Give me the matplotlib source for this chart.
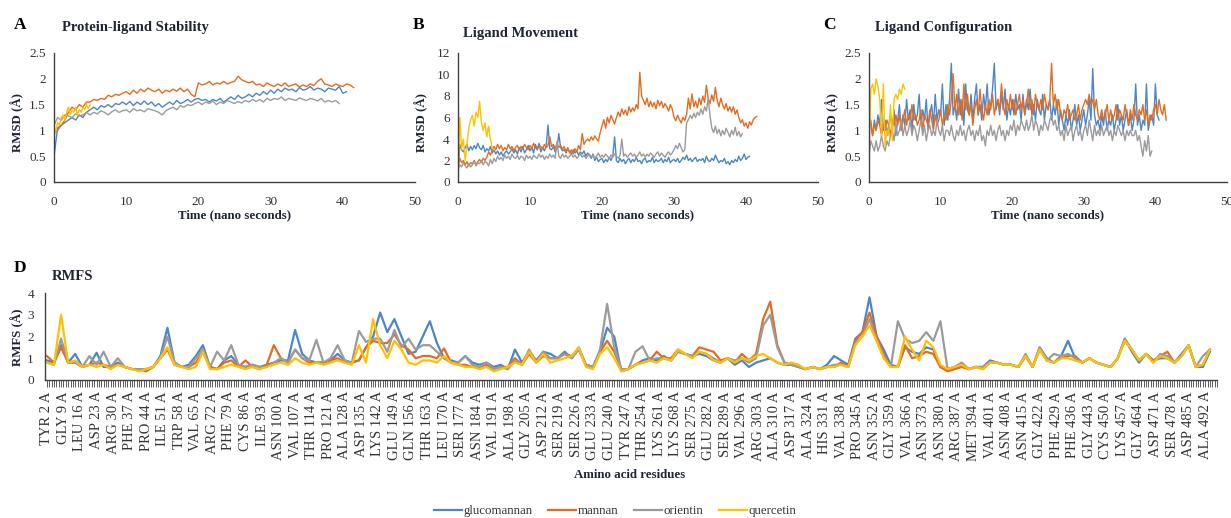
import numpy as np
import matplotlib
matplotlib.use("Agg")
import matplotlib.pyplot as plt
from matplotlib.ticker import MultipleLocator, FormatStrFormatter

plt.rcParams['font.family'] = ['Liberation Serif', 'DejaVu Serif']


def vals(s):
    return np.array(s.split(), dtype=float)


names = ["glucomannan", "mannan", "orientin", "quercetin"]
colors = ["#4a86c8", "#e46c1f", "#9b9b9b", "#ffc000"]

# ---- A: protein-ligand stability (RMSD, every 0.5 ns; quercetin every 0.25 ns)
A_glu = vals("""0.5 1.05 1.1 1.15 1.2 1.25 1.2 1.3 1.25 1.35
1.4 1.45 1.4 1.48 1.45 1.5 1.45 1.52 1.5 1.55
1.5 1.56 1.48 1.55 1.5 1.57 1.5 1.55 1.47 1.52
1.45 1.5 1.55 1.5 1.58 1.52 1.55 1.6 1.55 1.6
1.62 1.58 1.6 1.55 1.6 1.57 1.62 1.55 1.6 1.65
1.6 1.68 1.62 1.65 1.7 1.65 1.72 1.68 1.75 1.7
1.78 1.72 1.8 1.75 1.82 1.78 1.8 1.75 1.83 1.78
1.8 1.85 1.78 1.82 1.8 1.75 1.82 1.8 1.78 1.85
1.72 1.75""")
A_man = vals("""0.95 1.0 1.1 1.2 1.35 1.45 1.4 1.5 1.45 1.55
1.55 1.6 1.58 1.62 1.6 1.68 1.65 1.7 1.68 1.72
1.75 1.7 1.78 1.72 1.8 1.75 1.82 1.78 1.75 1.8
1.72 1.78 1.75 1.8 1.76 1.82 1.75 1.8 1.7 1.65
1.92 1.88 1.9 1.95 1.88 1.92 1.9 1.95 1.9 1.93
1.95 2.05 1.98 1.95 1.92 1.95 1.88 1.9 1.85 1.92
1.88 1.85 1.9 1.86 1.92 1.85 1.88 1.9 1.84 1.88
1.85 1.9 1.87 1.95 2.0 1.9 1.88 1.85 1.9 1.87
1.85 1.9 1.88 1.83""")
A_ori = vals("""1.1 1.25 1.2 1.3 1.28 1.25 1.32 1.28 1.3 1.35
1.3 1.35 1.32 1.38 1.35 1.3 1.36 1.4 1.35 1.38
1.4 1.35 1.42 1.38 1.4 1.36 1.42 1.4 1.38 1.35
1.3 1.38 1.42 1.45 1.4 1.48 1.45 1.5 1.48 1.52
1.55 1.5 1.55 1.52 1.57 1.5 1.55 1.52 1.58 1.55
1.52 1.56 1.53 1.58 1.55 1.6 1.56 1.6 1.55 1.62
1.58 1.62 1.6 1.65 1.58 1.62 1.6 1.58 1.63 1.6
1.58 1.62 1.6 1.57 1.62 1.55 1.58 1.55 1.58 1.52""")
A_que = vals("""0.9 1.0 1.15 1.1 1.25 1.3 1.2 1.35 1.45 1.3 1.4
1.35 1.45 1.3 1.4 1.35 1.45 1.4 1.5 1.42 1.5""")

# ---- B: ligand movement (RMSD, every 0.25 ns)
B_glu = vals("""0.5 3.5 3.0 2.8 3.2 3.5 2.9 3.3 3.0 3.4 3.1 3.6 3.2 3.0 3.4 2.8
3.1 2.9 3.3 2.7 3.0 2.6 2.9 2.5 2.8 2.4 2.7 2.9 2.6 2.8 3.1 2.7
3.0 2.6 3.2 2.8 3.3 2.7 3.0 3.4 2.9 3.2 2.7 3.5 3.0 3.6 2.8 3.2
2.9 3.4 5.3 3.1 3.0 3.3 2.8 3.1 4.5 3.2 2.9 3.0 2.7 3.1 2.8 2.6
3.0 2.7 2.9 2.5 2.8 2.6 2.9 2.4 2.7 2.5 2.2 2.6 2.0 2.3 1.9 2.1
2.2 1.8 2.1 1.9 2.3 2.0 2.4 4.2 2.0 1.8 2.2 1.9 2.1 1.7 2.0 2.2
1.8 2.1 1.9 2.3 1.9 2.0 1.7 2.1 2.2 1.8 2.0 1.9 2.3 1.8 2.1 1.9
2.0 2.2 1.8 2.1 1.9 2.3 1.8 2.0 2.1 1.9 2.2 1.8 2.0 2.3 2.1 2.5
2.0 2.2 1.9 2.1 2.3 1.9 2.1 2.0 2.2 1.8 2.4 2.0 1.9 2.2 2.0 2.5
2.1 1.8 2.0 1.9 2.2 1.7 1.9 1.6 2.0 1.8 2.1 1.9 2.4 2.0 2.2 2.6
2.1 2.3 2.4""")
B_man = vals("""1.5 2.2 1.8 2.0 1.6 1.9 1.5 1.8 1.7 2.0 1.6 1.9 2.1 1.8 2.2 2.0
2.3 2.8 2.5 3.0 3.3 3.0 3.5 3.1 3.4 2.9 3.2 3.0 3.5 3.1 3.3 2.9
3.2 3.4 3.0 3.3 3.1 3.5 3.2 3.0 3.4 3.1 3.6 3.2 3.0 3.4 3.3 3.1
3.5 3.2 3.4 4.2 3.3 3.5 3.1 3.6 3.2 3.4 3.0 3.3 2.8 3.2 2.7 3.0
2.6 3.1 2.8 3.4 3.0 4.5 3.5 3.8 4.0 3.8 4.2 3.9 4.3 4.0 3.8 4.6
5.2 5.8 5.0 6.0 5.5 6.2 5.8 5.4 6.0 6.5 6.1 6.8 6.3 6.7 6.2 7.0
6.5 6.9 6.6 7.2 6.8 10.2 8.0 7.6 7.2 7.8 7.0 7.5 7.0 7.4 6.8 7.6
7.1 7.5 6.9 7.3 7.0 6.6 7.2 6.8 6.0 5.7 6.2 5.8 5.5 6.0 5.7 6.3
7.8 6.8 8.2 7.0 7.5 6.9 7.8 7.2 8.0 7.4 9.0 7.8 7.3 8.1 7.5 8.8
7.6 7.0 7.8 7.2 6.8 7.3 6.6 7.0 6.5 7.0 6.3 6.7 6.0 5.5 5.8 5.2
5.5 5.0 5.6 5.3 5.8 6.0 6.1""")
B_ori = vals("""1.2 1.6 1.4 1.8 1.5 1.3 1.7 1.4 1.6 1.9 1.5 1.8 1.7 2.0 1.6 1.9
1.8 1.5 2.1 1.7 2.2 1.9 2.4 2.1 2.3 2.0 2.5 2.2 2.4 2.1 2.6 2.3
2.2 2.5 2.1 2.4 2.3 2.0 2.5 2.2 2.4 2.1 2.5 2.3 2.2 2.6 2.3 2.5
2.1 2.4 2.2 2.6 2.3 2.5 2.2 3.8 2.4 2.2 2.6 2.3 2.5 2.2 2.4 2.6
2.3 2.5 2.2 2.4 2.6 2.3 2.5 2.2 2.4 2.6 2.3 2.5 2.2 2.4 2.7 2.3
2.5 2.3 2.6 2.4 2.2 2.5 2.3 2.6 2.4 2.2 2.5 4.0 2.4 2.6 2.3 2.5
2.7 2.4 2.6 2.3 2.5 2.8 2.4 2.6 2.3 2.6 2.4 2.7 2.5 2.3 2.6 2.8
2.4 2.7 2.5 2.3 2.6 2.8 2.5 2.7 3.0 3.4 3.1 3.6 3.2 2.8 3.0 5.5
5.8 6.2 5.9 6.4 6.0 6.5 6.2 6.8 6.3 7.0 6.6 7.8 6.2 5.0 4.6 5.2
4.5 4.9 4.3 4.8 4.4 5.0 4.6 4.2 4.8 4.4 5.1 4.3 4.7 4.2 4.5""")
B_que = vals("""0.5 6.0 3.0 4.0 2.0 3.5 5.0 5.8 6.2 5.2 6.5
6.0 7.5 5.5 4.8 5.5 4.2 5.2 4.0 3.2 3.0""")

# ---- C: ligand configuration (RMSD, every 0.25 ns)
C_glu = vals("""1.3 1.1 0.9 1.2 1.0 1.3 1.1 1.6 1.0 1.2 0.9 1.1 1.3 1.0 1.4 0.9
1.2 1.5 1.0 1.3 1.1 1.6 1.2 1.4 1.0 1.5 1.2 1.3 1.7 1.1 1.4 1.2
1.6 1.0 1.3 1.5 1.1 1.7 1.2 1.4 1.3 1.9 1.1 1.5 1.2 1.6 2.3 1.3
1.5 1.2 1.8 1.3 1.6 1.1 1.9 1.4 1.3 1.7 1.2 1.6 1.9 1.3 1.5 1.2
1.7 1.4 1.9 1.3 1.5 1.8 2.3 1.4 1.6 1.3 1.7 1.4 1.8 1.2 1.5 1.3
1.6 1.3 1.7 1.4 1.5 1.2 1.7 1.3 1.6 1.4 1.8 1.3 1.5 1.2 1.6 1.4
1.3 1.7 1.2 1.5 1.4 1.6 1.2 1.5 1.3 1.6 1.1 1.4 1.2 1.0 1.3 1.1
1.4 1.0 1.2 1.5 1.1 1.3 1.0 1.2 1.4 1.1 1.3 1.6 1.2 2.2 1.3 1.1
1.2 1.0 1.3 1.1 1.4 1.0 1.2 1.1 1.3 1.0 1.2 1.5 1.1 1.3 1.0 1.2
1.4 1.1 1.3 1.0 1.2 1.9 1.1 1.3 1.0 1.2 1.1 1.9 1.0 1.2 1.3 1.1
1.9 1.3 1.2""")
C_man = vals("""1.0 1.2 0.9 1.1 1.0 1.2 1.1 0.9 1.1 1.0 1.2 1.1 0.9 1.2 1.1 1.3
1.1 1.3 1.0 1.2 1.4 1.1 1.3 1.2 1.5 1.2 1.3 1.1 1.2 1.4 1.0 1.3
1.2 1.1 1.4 1.2 1.0 1.3 1.1 1.2 1.4 1.1 1.3 1.2 1.5 1.3 1.6 2.1
1.4 1.7 1.3 1.6 1.2 1.9 1.4 1.7 1.3 1.5 1.1 1.4 1.6 1.3 1.8 1.4
1.2 1.5 1.3 1.6 1.4 1.7 1.3 1.5 1.6 1.4 1.9 1.5 1.3 1.6 1.4 1.7
1.4 1.6 1.3 1.5 1.7 1.4 1.6 1.3 1.5 1.8 1.4 1.6 1.3 1.7 1.5 1.4
1.6 1.4 1.7 1.5 1.4 1.6 2.3 1.5 1.7 1.4 1.6 1.3 1.2 1.4 1.3 1.5
1.2 1.3 1.4 1.2 1.3 1.5 1.2 1.4 1.5 1.6 1.5 1.7 1.5 1.6 1.4 1.6
1.3 1.2 1.4 1.2 1.3 1.5 1.2 1.4 1.2 1.3 1.5 1.2 1.4 1.3 1.2 1.5
1.3 1.1 1.4 1.2 1.5 1.3 1.2 1.4 1.3 1.5 1.2 1.4 1.1 1.3 1.2 1.4
1.5 1.3 1.6 1.4 1.3 1.5 1.2""")
C_ori = vals("""0.5 0.8 0.7 0.6 0.8 0.6 0.7 0.9 0.7 0.6 0.8 0.7 0.9 1.0 0.8 1.1
0.9 1.0 1.2 0.9 1.1 0.9 1.0 1.2 0.9 1.1 1.0 0.8 1.0 1.2 0.9 1.1
0.8 1.0 1.1 0.9 1.0 0.9 1.2 1.0 0.9 1.1 0.8 1.0 1.0 0.9 1.1 0.9
0.8 1.0 0.9 1.1 0.9 1.0 0.8 1.0 1.1 0.9 1.0 0.8 1.0 0.9 1.1 0.8
0.9 0.7 1.0 0.9 1.1 0.9 1.0 0.8 1.0 1.1 0.9 1.0 0.8 1.0 0.9 1.1
1.0 1.2 0.9 1.1 1.0 1.2 1.1 1.0 1.2 1.0 1.1 1.3 1.0 1.2 1.1 0.9
1.1 1.0 1.2 1.1 1.0 1.2 1.3 1.1 1.2 1.0 1.1 0.9 1.0 0.8 1.1 0.9
1.0 1.1 0.8 1.0 1.1 0.9 1.0 0.8 1.0 1.1 0.9 1.2 1.0 0.8 1.1 0.9
1.0 0.9 1.1 0.9 1.0 1.1 0.9 1.0 0.8 1.0 0.9 1.1 1.0 0.9 1.0 0.8
1.0 0.9 1.0 0.9 0.9 1.0 0.8 0.9 0.7 0.5 0.8 0.6 0.9 0.5 0.6""")
C_que = vals("""0.5 1.8 1.9 1.7 2.0 1.85 1.6 0.9 1.9 0.7 1.0
0.9 1.5 0.8 1.6 1.7 1.6 1.8 1.7 1.9 1.8""")

# ---- D: RMFS per residue (every 3rd residue, 2..494)
D_res = np.arange(2, 497, 3)
D_glu = vals("""0.9 0.8 1.6 0.8 1.2 0.6 0.7 1.25 0.6 0.6
0.8 0.6 0.5 0.5 0.5 0.6 1.1 2.4 0.8 0.6
0.7 1.1 1.6 0.6 0.5 0.9 1.1 0.7 0.6 0.7
0.6 0.7 0.8 0.9 0.9 2.3 1.2 0.9 0.8 0.8
0.9 1.2 0.9 0.8 0.9 1.5 2.0 3.1 2.2 2.8
2.0 1.2 1.3 2.0 2.7 1.7 1.0 0.9 0.8 1.1
0.8 0.7 0.8 0.6 0.7 0.5 1.4 0.8 1.3 0.9
1.3 1.2 1.0 1.3 1.0 1.5 0.7 0.6 1.3 2.4
2.0 0.4 0.5 0.7 0.9 1.0 0.9 1.1 0.9 1.3
1.2 1.1 1.2 1.1 0.9 0.8 1.0 0.7 0.9 0.6
0.8 0.9 1.0 0.8 0.7 0.7 0.6 0.5 0.6 0.5
0.7 1.1 0.9 0.7 1.9 2.2 3.8 2.0 1.4 0.7
0.6 1.5 1.3 1.2 1.5 1.4 0.6 0.5 0.6 0.7
0.5 0.6 0.6 0.9 0.8 0.7 0.7 0.6 1.1 0.6
1.5 1.0 0.8 1.1 1.8 1.0 0.8 1.0 0.8 0.7
0.6 1.0 1.9 1.3 0.8 1.2 0.9 1.0 1.0 0.8
1.2 1.6 0.6 0.6 1.3""")
D_man = vals("""1.1 0.8 1.5 0.8 0.8 0.6 0.7 0.8 0.7 0.6
0.7 0.6 0.5 0.5 0.4 0.6 1.0 1.4 0.7 0.6
0.6 0.8 1.3 0.6 0.5 0.8 0.9 0.6 0.9 0.6
0.5 0.7 1.6 1.0 0.8 1.4 1.0 0.8 0.8 0.8
0.9 1.0 0.8 0.8 0.9 1.5 1.8 1.7 1.7 2.1
1.6 1.4 1.0 1.1 1.1 1.0 1.45 0.8 0.7 0.7
0.6 0.6 0.7 0.5 0.6 0.6 1.0 0.7 1.2 0.8
1.1 1.0 1.0 1.2 1.1 1.4 0.7 0.6 1.3 1.8
1.3 0.5 0.5 0.7 0.8 0.9 1.3 1.0 1.0 1.4
1.2 1.1 1.5 1.4 1.3 0.9 1.0 0.8 1.2 0.9
1.2 2.8 3.6 1.6 0.8 0.7 0.6 0.5 0.6 0.5
0.6 0.6 0.8 0.6 1.8 2.2 3.1 2.0 1.2 0.6
0.6 1.6 1.0 1.1 1.3 1.2 0.6 0.4 0.5 0.6
0.5 0.6 0.5 0.8 0.8 0.7 0.7 0.6 1.1 0.6
1.4 0.9 0.8 1.0 1.1 1.1 0.8 1.0 0.8 0.7
0.6 1.0 1.8 1.4 0.9 1.2 0.9 1.1 1.3 0.8
1.1 1.6 0.6 0.7 1.4""")
D_ori = vals("""0.8 0.7 1.9 0.8 0.8 0.6 1.1 0.7 1.3 0.6
1.0 0.6 0.5 0.5 0.5 0.6 1.0 2.0 0.8 0.6
0.6 1.0 1.4 0.6 1.3 0.9 1.6 0.7 0.6 0.7
0.6 0.6 0.8 1.0 0.8 1.4 1.0 0.9 1.85 0.8
1.0 1.6 0.9 0.8 2.25 1.75 1.9 1.9 1.3 2.3
1.5 1.9 1.4 1.6 1.6 1.3 1.0 0.8 0.8 1.1
0.7 0.6 0.8 0.5 0.6 0.5 0.9 0.7 1.4 0.8
1.3 1.0 1.0 1.2 1.0 1.4 0.7 0.6 1.4 3.5
1.5 0.5 0.5 1.3 1.55 0.9 1.0 1.0 0.9 1.3
1.2 1.1 1.3 1.2 1.0 0.8 1.0 0.9 1.0 0.8
1.0 2.5 3.0 1.5 0.8 0.7 0.6 0.5 0.6 0.5
0.6 0.7 0.7 0.6 1.7 2.0 2.8 1.8 1.1 0.6
2.7 1.9 1.7 1.8 2.2 1.8 2.7 0.5 0.6 0.8
0.5 0.6 0.6 0.8 0.8 0.7 0.7 0.6 1.2 0.6
1.5 0.9 1.2 1.1 1.2 1.0 0.8 1.0 0.8 0.7
0.6 1.0 1.9 1.4 0.9 1.2 0.8 1.2 1.1 0.8
1.1 1.6 0.6 1.1 1.4""")
D_que = vals("""0.8 0.7 3.0 0.8 0.9 0.6 0.7 0.6 0.7 0.5
0.7 0.6 0.5 0.4 0.5 0.6 1.0 1.5 0.7 0.6
0.5 0.6 1.3 0.5 0.5 0.6 0.7 0.6 0.5 0.6
0.5 0.6 0.7 0.8 0.7 1.0 0.8 0.7 0.8 0.7
0.8 0.9 0.8 0.7 1.6 0.8 2.8 1.6 1.0 1.8
1.4 0.8 0.7 0.9 0.9 0.8 1.1 0.8 0.7 0.6
0.6 0.5 0.6 0.4 0.5 0.6 0.8 0.7 1.3 0.8
1.2 0.8 0.9 1.0 1.1 1.5 0.6 0.5 1.2 1.5
1.0 0.4 0.5 0.7 0.8 0.9 0.8 1.0 0.9 1.4
1.2 1.0 1.3 1.2 0.9 0.8 1.0 0.8 1.0 0.9
1.1 1.2 1.0 0.8 0.7 0.8 0.7 0.5 0.6 0.5
0.6 0.6 0.7 0.6 1.6 2.0 2.5 1.8 1.0 0.6
0.6 2.0 1.4 0.9 1.8 1.5 0.7 0.5 0.6 0.7
0.5 0.6 0.5 0.8 0.8 0.7 0.7 0.6 1.1 0.6
1.4 0.9 0.8 1.0 1.0 0.9 0.8 1.0 0.8 0.7
0.6 1.0 1.8 1.4 0.9 1.2 0.8 1.1 1.0 0.8
1.1 1.6 0.6 0.7 1.4""")

res_labels = ["TYR 2 A", "GLY 9 A", "LEU 16 A", "ASP 23 A", "ARG 30 A", "PHE 37 A",
              "PRO 44 A", "ILE 51 A", "TRP 58 A", "VAL 65 A", "ARG 72 A", "PHE 79 A",
              "CYS 86 A", "ILE 93 A", "ASN 100 A", "VAL 107 A", "THR 114 A", "PRO 121 A",
              "ALA 128 A", "ASP 135 A", "LYS 142 A", "GLU 149 A", "GLN 156 A", "THR 163 A",
              "LEU 170 A", "SER 177 A", "ASN 184 A", "VAL 191 A", "ALA 198 A", "GLY 205 A",
              "ASP 212 A", "SER 219 A", "SER 226 A", "GLU 233 A", "GLU 240 A", "TYR 247 A",
              "THR 254 A", "LYS 261 A", "LYS 268 A", "SER 275 A", "GLU 282 A", "SER 289 A",
              "VAL 296 A", "ARG 303 A", "ALA 310 A", "ASP 317 A", "ALA 324 A", "HIS 331 A",
              "VAL 338 A", "PRO 345 A", "ASN 352 A", "GLY 359 A", "VAL 366 A", "ASN 373 A",
              "ASN 380 A", "ARG 387 A", "MET 394 A", "VAL 401 A", "ASN 408 A", "ASN 415 A",
              "GLY 422 A", "PHE 429 A", "PHE 436 A", "GLY 443 A", "CYS 450 A", "LYS 457 A",
              "GLY 464 A", "ASP 471 A", "SER 478 A", "ASP 485 A", "ALA 492 A"]
res_pos = [int(s.split()[1]) for s in res_labels]

W, H = 1231, 518
fig = plt.figure(figsize=(W / 100, H / 100), dpi=100)

axis_c = "#404040"
text_c = "#1e2433"
tick_c = "#333333"


def px_axes(x0, x1, ytop, ybot):
    return fig.add_axes([x0 / W, 1 - ybot / H, (x1 - x0) / W, (ybot - ytop) / H])


def style(ax):
    for s in ["top", "right"]:
        ax.spines[s].set_visible(False)
    for s in ["left", "bottom"]:
        ax.spines[s].set_color(axis_c)
        ax.spines[s].set_linewidth(1.0)
    ax.set_facecolor("none")


top_panels = [
    ("A", "Protein-ligand Stability", [A_glu, A_man, A_ori, A_que], [0.5, 0.5, 0.5, 0.25],
     (54, 415), 2.5, 0.5, (20, 62, 28)),
    ("B", "Ligand Movement", [B_glu, B_man, B_ori, B_que], [0.25] * 4,
     (458, 818), 12, 2, (419, 463, 33)),
    ("C", "Ligand Configuration", [C_glu, C_man, C_ori, C_que], [0.25] * 4,
     (869, 1227), 2.5, 0.5, (829, 875, 27)),
]

for letter, title, series, steps, (x0, x1), ymax, ystep, (lx, tx, ty) in top_panels:
    ax = px_axes(x0, x1, 53, 182)
    style(ax)
    for y, dt, c in zip(series, steps, colors):
        t = np.arange(len(y)) * dt
        ax.plot(t, y, color=c, lw=1.0)
    ax.set_xlim(0, 50)
    ax.set_ylim(0, ymax)
    ax.set_xticks(np.arange(0, 51, 10))
    ax.set_yticks(np.arange(0, ymax + 0.001, ystep))
    ax.yaxis.set_major_formatter(FormatStrFormatter('%g'))
    ax.tick_params(axis='both', length=0, labelsize=9.5, colors=tick_c)
    ax.tick_params(axis='x', pad=10)
    ax.tick_params(axis='y', pad=6)
    ax.set_xlabel("Time (nano seconds)", fontsize=9.3, fontweight='bold', color=text_c, labelpad=1)
    fig.text((x0 - 37) / W, 1 - 122 / H, "RMSD (Å)", rotation=90, ha='center', va='center',
             fontsize=9.3, fontweight='bold', color=text_c)
    fig.text(lx / W, 1 - 25 / H, letter, ha='center', va='center', fontsize=12.5,
             fontweight='bold', color='black')
    fig.text(tx / W, 1 - ty / H, title, ha='left', va='center', fontsize=10.5,
             fontweight='bold', color=text_c)

# ---- D
axd = px_axes(45, 1217, 293, 380)
style(axd)
lines = []
for y, c, n in zip([D_glu, D_man, D_ori, D_que], colors, names):
    ln, = axd.plot(D_res, y, color=c, lw=1.6, label=n)
    lines.append(ln)
axd.set_xlim(1.2, 497)
axd.set_ylim(0, 4)
axd.set_yticks(range(5))
axd.set_xticks(res_pos)
axd.set_xticklabels(res_labels, rotation=90, fontsize=10.5, color=tick_c)
axd.xaxis.set_minor_locator(MultipleLocator(1))
axd.tick_params(axis='x', which='both', length=5, width=0.6, color=axis_c, pad=3)
axd.tick_params(axis='y', length=0, labelsize=9.5, colors=tick_c, pad=8)
fig.text(17 / W, 1 - 337 / H, "RMFS (Å)", rotation=90, ha='center', va='center',
         fontsize=9.3, fontweight='bold', color=text_c)
fig.text(630 / W, 1 - 475 / H, "Amino acid residues", ha='center', va='center',
         fontsize=9.3, fontweight='bold', color=text_c)
fig.text(20 / W, 1 - 268 / H, "D", ha='center', va='center', fontsize=12.5,
         fontweight='bold', color='black')
fig.text(52 / W, 1 - 276 / H, "RMFS", ha='left', va='center', fontsize=10.5,
         fontweight='bold', color=text_c)

fig.legend(handles=lines, loc='center', bbox_to_anchor=(615 / W, 1 - 511 / H), ncol=4,
           frameon=False, fontsize=9.3, handlelength=2.2, handletextpad=0.1,
           columnspacing=1.2, labelcolor=tick_c)

fig.savefig("out.png", dpi=100)
